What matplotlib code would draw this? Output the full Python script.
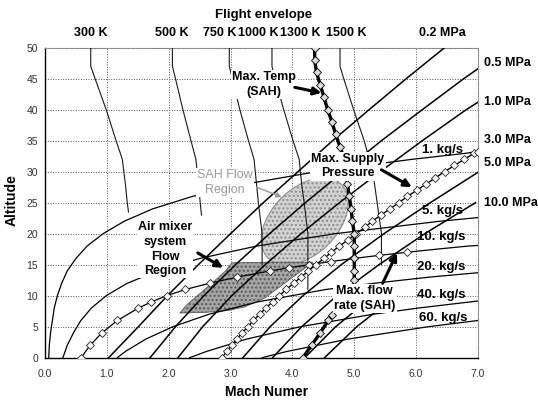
import matplotlib.pyplot as plt
from matplotlib.patches import Ellipse, Polygon
from matplotlib.transforms import ScaledTranslation

plt.rcParams['font.family'] = ['Liberation Sans', 'DejaVu Sans']

mach_ticks = [0, 1, 2, 3, 4, 5, 6, 7]
alt_ticks = [0, 5, 10, 15, 20, 25, 30, 35, 40, 45, 50]

# total temperature lines (Mach vs altitude, km)
temp_names = ['300 K', '500 K', '750 K', '1000 K', '1300 K', '1500 K']
t300_alt = [50, 47, 45, 40, 35, 32, 28, 25, 23.5]
t300_mach = [0.74, 0.74, 0.81, 0.99, 1.15, 1.25, 1.30, 1.33, 1.35]
t500_alt = [50, 47, 45, 40, 35, 32, 30, 25, 23]
t500_mach = [2.06, 2.06, 2.11, 2.23, 2.36, 2.44, 2.46, 2.51, 2.53]
t750_alt = [50, 47, 45, 40, 35, 32, 28, 25, 20, 15]
t750_mach = [2.98, 2.98, 3.03, 3.15, 3.29, 3.38, 3.42, 3.45, 3.51, 3.51]
t1000_alt = [50, 47, 45, 40, 35, 32, 28, 25, 20, 11]
t1000_mach = [3.67, 3.67, 3.72, 3.86, 4.01, 4.11, 4.15, 4.19, 4.25, 4.25]
t1500_alt = [50, 47, 45, 40, 35, 30, 25, 20, 15]
t1500_mach = [4.77, 4.77, 4.83, 4.99, 5.16, 5.30, 5.37, 5.44, 5.44]
# 1300 K = max. temp of the SAH (thick line with markers)
t1300_alt = [50, 48, 46, 44, 42, 40, 38, 36, 34, 32, 30, 28, 26, 24, 22, 20, 18, 16, 14, 12.5]
t1300_mach = [4.36, 4.36, 4.39, 4.45, 4.51, 4.57, 4.64, 4.70, 4.77, 4.84, 4.87, 4.89,
              4.92, 4.95, 4.97, 5.00, 5.00, 5.00, 5.00, 5.00]

# total pressure lines
press_names = ['0.5 MPa', '1.0 MPa', '3.0 MPa', '5.0 MPa', '10.0 MPa']
press_label_alt = [47.5, 41.2, 35.1, 31.4, 24.9]
p02_alt = [0, 5, 10, 15, 20, 25, 30, 35, 40, 45, 50]
p02_mach = [1.03, 1.51, 1.98, 2.48, 3.00, 3.53, 4.09, 4.65, 5.24, 5.84, 6.46]
p05_alt = [0, 5, 10, 15, 20, 25, 30, 35, 40, 45, 46.6]
p05_mach = [1.70, 2.11, 2.57, 3.08, 3.63, 4.21, 4.82, 5.44, 6.10, 6.77, 7.0]
p1_alt = [0, 5, 10, 15, 20, 25, 30, 35, 40, 41.2]
p1_mach = [2.15, 2.55, 3.02, 3.56, 4.14, 4.76, 5.42, 6.10, 6.81, 7.0]
p5_alt = [0, 5, 10, 15, 20, 25, 29.9]
p5_mach = [3.20, 3.64, 4.17, 4.79, 5.48, 6.23, 7.0]
p10_alt = [0, 5, 10, 15, 20, 25]
p10_mach = [3.68, 4.15, 4.72, 5.40, 6.14, 6.96]
p20_alt = [0, 5, 10]
p20_mach = [4.20, 4.70, 5.31]
p30_alt = [0, 5, 10]
p30_mach = [4.52, 5.04, 5.68]
# 3.0 MPa = max. supply pressure (markers)
p3_alt = list(range(0, 34)) + [33.2]
p3_mach = [2.86, 2.94, 3.02, 3.10, 3.19, 3.28, 3.37, 3.47, 3.57, 3.68, 3.79, 3.90,
           4.02, 4.14, 4.26, 4.38, 4.51, 4.63, 4.76, 4.90, 5.03, 5.17, 5.29, 5.43,
           5.58, 5.72, 5.86, 6.01, 6.16, 6.31, 6.46, 6.62, 6.78, 6.94, 7.0]

# mass flow lines
flow_names = ['1. kg/s', '5. kg/s', '10. kg/s', '20. kg/s', '40. kg/s', '60. kg/s']
flow_label_alt = [33.5, 23.6, 19.4, 14.6, 10.1, 6.4]
flow_label_mach = [6.1, 6.09, 6.02, 6.02, 6.02, 6.04]
mf1_alt = [0, 2, 4, 6, 8, 10, 12, 14, 16, 18, 20, 22, 24, 26, 28, 30, 32, 33, 33.3]
mf1_mach = [0.06, 0.07, 0.09, 0.12, 0.15, 0.20, 0.27, 0.36, 0.50, 0.68, 0.94, 1.28,
            1.74, 2.38, 3.24, 4.39, 5.94, 6.83, 7.0]
mf5_alt = [0, 2, 4, 6, 8, 10, 12, 14, 16, 18, 20, 22, 22.6]
mf5_mach = [0.29, 0.36, 0.46, 0.58, 0.75, 0.99, 1.33, 1.82, 2.50, 3.42, 4.69, 6.38, 7.0]
mf10_alt = [0, 2, 4, 6, 8, 9, 10, 11, 12, 13, 14, 14.5, 15, 15.5, 16, 16.5, 17, 17.5, 18, 18.1]
mf10_mach = [0.585, 0.73, 0.92, 1.17, 1.51, 1.72, 1.97, 2.27, 2.66, 3.11, 3.64, 3.94,
             4.27, 4.62, 4.99, 5.40, 5.85, 6.33, 6.84, 7.0]
mf20_alt = [0, 1, 3, 5, 7, 9, 11, 12, 13, 13.7]
mf20_mach = [1.17, 1.30, 1.63, 2.07, 2.65, 3.44, 4.54, 5.32, 6.22, 7.0]
mf40_alt = [0, 1, 3, 5, 7, 8, 9, 9.15]
mf40_mach = [2.34, 2.61, 3.26, 4.13, 5.30, 6.03, 6.88, 7.0]
mf60_alt = [0, 1, 3, 5, 6]
mf60_mach = [3.51, 3.91, 4.90, 6.20, 7.0]

# short SAH segment near the ground
sah_low_alt = [0, 2, 4, 6, 6.9]
sah_low_mach = [4.17, 4.31, 4.45, 4.58, 4.64]

# air mixer system flow region outline
mix_mach = [2.18, 2.30, 2.50, 2.72, 2.92, 3.02, 3.60, 4.33, 4.05, 3.83, 3.55, 3.23, 2.96, 2.58]
mix_alt = [7.2, 8.6, 10.3, 12.2, 14.0, 15.3, 15.4, 15.4, 13.3, 11.7, 9.6, 8.2, 7.6, 7.3]
# SAH flow region (ellipse centre)
sah_center = (4.20, 22.0)

fig = plt.figure(figsize=(5.38, 4.0), dpi=100)
ax = fig.add_axes([0.0836, 0.1058, 0.8048, 0.775])
ax.set_xlim(0, 7)
ax.set_ylim(0, 50)
ax.set_xticks(mach_ticks)
ax.set_xticklabels(['%.1f' % m for m in mach_ticks])
ax.set_yticks(alt_ticks)
ax.grid(True, color='#555555', linestyle=(0, (1, 1.6)), linewidth=0.7)
ax.set_axisbelow(True)
ax.tick_params(length=0, labelsize=7.5, colors='#333333')
ax.tick_params(axis='x', pad=8)
ax.tick_params(axis='y', pad=5)
for s in ['top', 'right']:
    ax.spines[s].set_linestyle((0, (1, 1.2)))
    ax.spines[s].set_color('#888888')
for s in ['left', 'bottom']:
    ax.spines[s].set_linewidth(1.0)

# shaded regions
ell = Ellipse((0, 0), width=1.04, height=0.66, angle=45,
              transform=fig.dpi_scale_trans + ScaledTranslation(sah_center[0], sah_center[1], ax.transData),
              facecolor='#d2d2d2', edgecolor='#8c8c8c', lw=0.8, hatch='....', zorder=1.6)
ax.add_patch(ell)
ax.add_patch(Polygon(list(zip(mix_mach, mix_alt)), closed=True, facecolor='#a5a5a5',
                     edgecolor='#5a5a5a', lw=0.6, hatch='....', zorder=1.7))

# temperature lines
for m, a in [(t300_mach, t300_alt), (t500_mach, t500_alt), (t750_mach, t750_alt),
             (t1000_mach, t1000_alt), (t1500_mach, t1500_alt)]:
    ax.plot(m, a, color='#1a1a1a', lw=0.8, zorder=3)

# pressure lines
for m, a in [(p02_mach, p02_alt), (p05_mach, p05_alt), (p1_mach, p1_alt),
             (p5_mach, p5_alt), (p10_mach, p10_alt), (p20_mach, p20_alt), (p30_mach, p30_alt)]:
    ax.plot(m, a, color='black', lw=1.1, zorder=3)

# mass flow lines
for m, a in [(mf1_mach, mf1_alt), (mf5_mach, mf5_alt), (mf20_mach, mf20_alt),
             (mf40_mach, mf40_alt), (mf60_mach, mf60_alt)]:
    ax.plot(m, a, color='black', lw=0.9, zorder=3)

mk = dict(marker='D', ms=3.6, mfc='white', mec='#222222', mew=0.6)
ax.plot(mf10_mach, mf10_alt, color='black', lw=0.9, markevery=slice(0, 17), zorder=4, **mk)
ax.plot(p3_mach, p3_alt, color='black', lw=1.0, zorder=4, **mk)
ax.plot(t1300_mach, t1300_alt, color='black', lw=2.4, zorder=4,
        marker='D', ms=4, mfc='#dddddd', mec='black', mew=0.6)
ax.plot(sah_low_mach, sah_low_alt, color='black', lw=2.4, zorder=4,
        marker='D', ms=4, mfc='#dddddd', mec='black', mew=0.6)

# annotations
box = dict(facecolor='white', edgecolor='none', pad=0.8)
txt = dict(fontsize=9, fontweight='bold', ha='center', va='center', linespacing=1.3, zorder=6)
ax.text(3.54, 44.1, 'Max. Temp\n(SAH)', bbox=box, **txt)
ax.text(4.90, 30.9, 'Max. Supply\nPressure', bbox=box, **txt)
ax.text(1.94, 17.5, 'Air mixer\nsystem\nFlow\nRegion', bbox=box, **txt)
ax.text(5.17, 9.5, 'Max. flow\nrate (SAH)', bbox=box, **txt)
ax.text(2.91, 28.2, 'SAH Flow\nRegion', bbox=box, color='#9a9a9a',
        **{k: v for k, v in txt.items() if k != 'fontweight'})

arrow = dict(arrowstyle='-|>', lw=2.2, color='black', mutation_scale=11, shrinkA=0, shrinkB=0)
ax.annotate('', xy=(4.47, 42.7), xytext=(4.04, 43.6), arrowprops=arrow, zorder=7)
ax.annotate('', xy=(5.93, 27.5), xytext=(5.44, 30.3), arrowprops=arrow, zorder=7)
ax.annotate('', xy=(2.88, 14.5), xytext=(2.47, 16.9), arrowprops=arrow, zorder=7)
ax.annotate('', xy=(5.69, 16.9), xytext=(5.46, 12.0), arrowprops=arrow, zorder=7)
ax.annotate('', xy=(3.83, 25.9), xytext=(3.42, 27.5),
            arrowprops=dict(arrowstyle='-|>', lw=1.0, color='#9a9a9a', mutation_scale=8,
                            shrinkA=0, shrinkB=0), zorder=7)

# labels for pressure and mass flow lines
for name, a in zip(press_names, press_label_alt):
    ax.text(7.1, a, name, fontsize=9, fontweight='bold', ha='left', va='center', clip_on=False)
for name, m, a in zip(flow_names, flow_label_mach, flow_label_alt):
    ax.text(m, a, name, fontsize=9.5, fontweight='bold', ha='left', va='center', zorder=5)

# flight envelope header
temp_label_x = [0.169, 0.320, 0.409, 0.480, 0.558, 0.643]
for name, x in zip(temp_names, temp_label_x):
    fig.text(x, 0.9175, name, fontsize=9, fontweight='bold', ha='center', va='center')
fig.text(0.822, 0.9175, '0.2 MPa', fontsize=9, fontweight='bold', ha='center', va='center')
fig.text(0.489, 0.9625, 'Flight envelope', fontsize=9.5, fontweight='bold', ha='center', va='center')

fig.text(0.496, 0.02, 'Mach Numer', fontsize=10, fontweight='bold', ha='center', va='center')
fig.text(0.022, 0.5, 'Altitude', fontsize=10, fontweight='bold', rotation=90, ha='center', va='center')

fig.savefig('out.png', dpi=100)
